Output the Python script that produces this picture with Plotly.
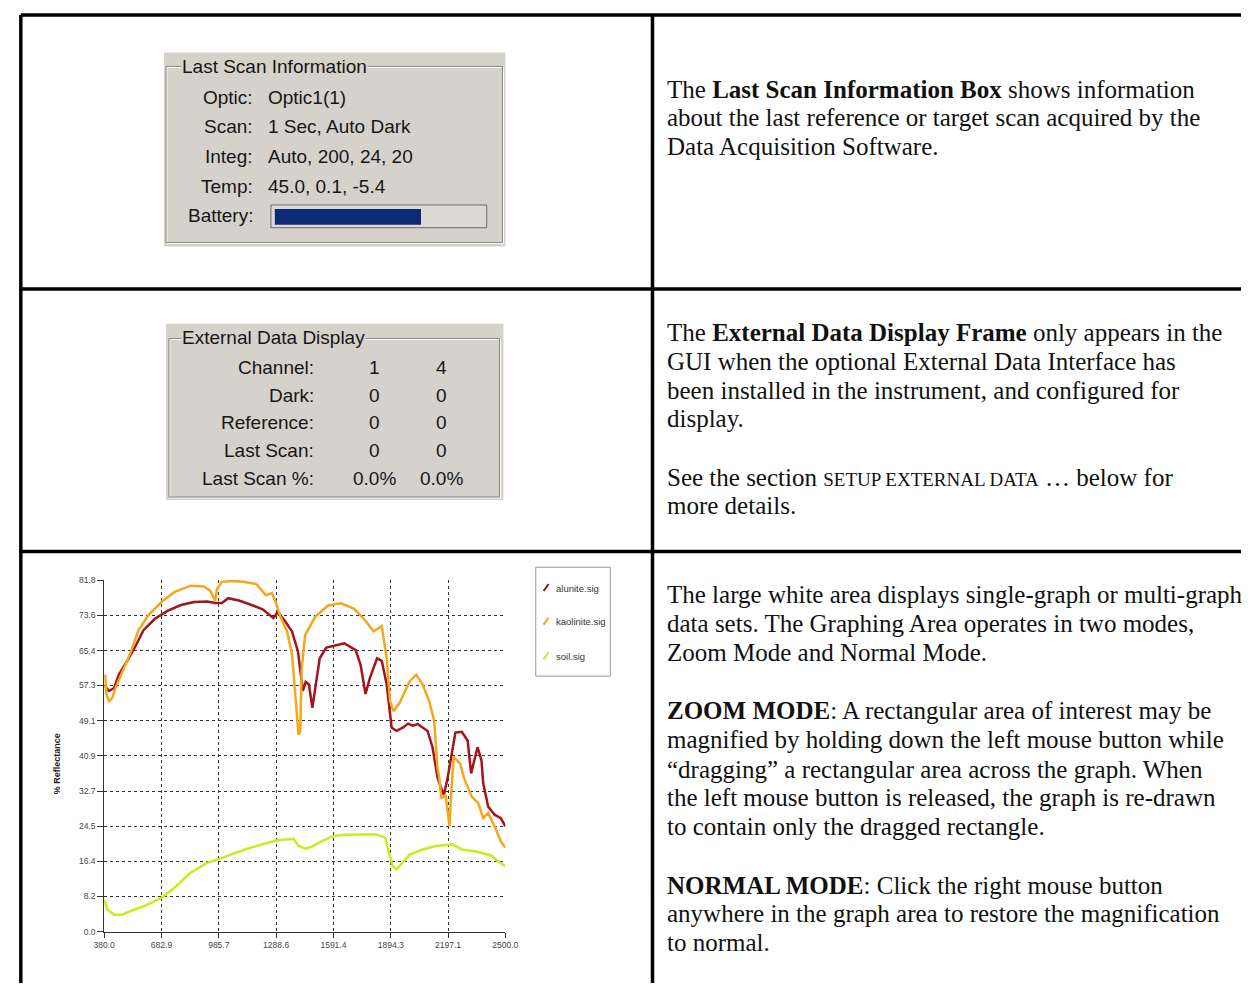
import plotly.graph_objects as go

W, H = 1254, 988

# ---------------- chart data ----------------
series_names = ["alunite.sig", "kaolinite.sig", "soil.sig"]
series_colors = ["#a3141c", "#f4a61c", "#c6ee1e"]

alunite_wl = [385, 406, 432, 458, 509, 544, 587, 648, 717, 786, 855, 924, 967, 1002, 1036, 1096,
              1166, 1217, 1274, 1298, 1338, 1373, 1404, 1421, 1430, 1445, 1462, 1480, 1494, 1519,
              1554, 1614, 1649, 1709, 1735, 1761, 1784, 1822, 1847, 1873, 1899, 1925, 1960, 1986,
              2011, 2037, 2089, 2115, 2141, 2158, 2175, 2193, 2215, 2236, 2270, 2301, 2319, 2331,
              2353, 2374, 2383, 2409, 2443, 2476, 2500]
alunite_val = [57.1, 56.0, 56.7, 59.8, 63.6, 66.3, 70.1, 72.8, 74.7, 76.0, 76.7, 76.8, 76.5, 76.5,
               77.6, 77.0, 75.9, 75.0, 73.0, 74.4, 72.1, 69.8, 65.2, 59.4, 56.0, 58.1, 57.5, 52.1,
               56.0, 63.6, 66.1, 66.8, 67.1, 65.5, 62.1, 55.3, 59.0, 63.6, 63.0, 57.5, 47.5, 46.7,
               47.5, 48.4, 47.9, 48.3, 46.7, 42.9, 36.0, 33.7, 31.8, 35.3, 40.7, 46.3, 46.5, 44.4,
               36.8, 39.1, 42.9, 39.8, 34.5, 29.1, 27.2, 26.4, 24.5]

kaolinite_wl = [385, 392, 406, 423, 440, 475, 518, 561, 613, 682, 751, 837, 907, 941, 967, 976,
                1002, 1062, 1114, 1183, 1235, 1266, 1286, 1312, 1347, 1373, 1390, 1407, 1416, 1424,
                1442, 1494, 1563, 1632, 1701, 1752, 1804, 1847, 1873, 1891, 1908, 1942, 1994, 2029,
                2063, 2098, 2124, 2141, 2150, 2162, 2184, 2205, 2215, 2227, 2236, 2262, 2279, 2322,
                2357, 2383, 2409, 2443, 2476, 2500]
kaolinite_val = [59.8, 55.2, 53.6, 54.4, 56.7, 60.5, 64.8, 70.1, 73.6, 76.7, 79.0, 80.5, 80.3, 79.3,
                 77.0, 79.7, 81.4, 81.6, 81.4, 80.9, 78.3, 78.8, 76.7, 73.2, 69.8, 64.4, 55.2, 45.8,
                 46.6, 61.3, 69.0, 73.2, 75.9, 76.4, 75.1, 72.8, 69.9, 71.1, 63.6, 53.6, 51.3, 53.3,
                 58.2, 59.8, 57.5, 53.6, 49.0, 38.3, 36.0, 31.0, 31.8, 24.5, 33.0, 40.7, 40.2, 39.1,
                 36.0, 31.4, 29.9, 26.4, 27.6, 24.5, 21.0, 19.5]

soil_wl = [380, 397, 432, 475, 527, 596, 684, 751, 837, 924, 988, 1062, 1131, 1217, 1290, 1338,
           1381, 1407, 1442, 1476, 1528, 1590, 1649, 1735, 1822, 1865, 1891, 1904, 1925, 1960,
           1994, 2063, 2132, 2219, 2270, 2339, 2426, 2460, 2500]
soil_val = [7.5, 5.1, 3.9, 3.9, 4.9, 6.0, 7.9, 10.2, 13.7, 16.0, 16.9, 18.1, 19.2, 20.3, 21.2, 21.4,
            21.6, 19.9, 19.3, 19.7, 21.0, 22.2, 22.5, 22.6, 22.6, 21.8, 17.6, 15.2, 14.5, 16.2,
            17.9, 19.1, 19.9, 20.3, 19.1, 18.7, 17.7, 16.4, 15.2]

x_ticks = [380.0, 682.9, 985.7, 1288.6, 1591.4, 1894.3, 2197.1, 2500.0]
x_tick_labels = ["380.0", "682.9", "985.7", "1288.6", "1591.4", "1894.3", "2197.1", "2500.0"]
y_ticks = [0.0, 8.2, 16.4, 24.5, 32.7, 40.9, 49.1, 57.3, 65.4, 73.6, 81.8]
y_tick_labels = ["0.0", "8.2", "16.4", "24.5", "32.7", "40.9", "49.1", "57.3", "65.4", "73.6", "81.8"]
y_title = "% Reflectance"

# ---------------- GUI panel texts ----------------
scan_title = "Last Scan Information"
scan_labels = ["Optic:", "Scan:", "Integ:", "Temp:", "Battery:"]
scan_values = ["Optic1(1)", "1 Sec, Auto Dark", "Auto, 200, 24, 20", "45.0, 0.1, -5.4", ""]

ext_title = "External Data Display"
ext_labels = ["Channel:", "Dark:", "Reference:", "Last Scan:", "Last Scan %:"]
ext_col1 = ["1", "0", "0", "0", "0.0%"]
ext_col2 = ["4", "0", "0", "0", "0.0%"]

# ---------------- right-hand description text ----------------
desc_lines = [
    (85, "The <b>Last Scan Information Box</b> shows information"),
    (114, "about the last reference or target scan acquired by the"),
    (143, "Data Acquisition Software."),
    (331, "The <b>External Data Display Frame</b> only appears in the"),
    (360, "GUI when the optional External Data Interface has"),
    (389, "been installed in the instrument, and configured for"),
    (418, "display."),
    (477, "See the section <span style='font-size:19px'>SETUP EXTERNAL DATA</span> … below for"),
    (506, "more details."),
    (596, "The large white area displays single-graph or multi-graph"),
    (625, "data sets. The Graphing Area operates in two modes,"),
    (654, "Zoom Mode and Normal Mode."),
    (713, "<b>ZOOM MODE</b>: A rectangular area of interest may be"),
    (742, "magnified by holding down the left mouse button while"),
    (772, "“dragging” a rectangular area across the graph. When"),
    (801, "the left mouse button is released, the graph is re-drawn"),
    (830, "to contain only the dragged rectangle."),
    (889, "<b>NORMAL MODE</b>: Click the right mouse button"),
    (918, "anywhere in the graph area to restore the magnification"),
    (947, "to normal."),
]


def X(p):
    return p / W


def Y(p):
    return 1 - p / H


fig = go.Figure()
for name, wl, val, col in zip(series_names,
                              [alunite_wl, kaolinite_wl, soil_wl],
                              [alunite_val, kaolinite_val, soil_val],
                              series_colors):
    fig.add_trace(go.Scatter(x=wl, y=val, mode="lines", name=name,
                             line=dict(color=col, width=2.5),
                             showlegend=False, hoverinfo="skip"))

shapes = []
annotations = []

# table borders
BK = dict(color="black", width=3.5)
for (x0, y0, x1, y1) in [(10, 10, 1254, 10), (10, 10, 10, 988), (654, 10, 654, 988),
                         (10, 287, 1254, 287), (10, 552, 1254, 552)]:
    shapes.append(dict(type="line", xref="paper", yref="paper",
                       x0=X(x0), y0=Y(y0), x1=X(x1), y1=Y(y1), line=BK))

GREY = "#d5d2cc"


def rect(x0, y0, x1, y1, fill=None, line=None):
    d = dict(type="rect", xref="paper", yref="paper",
             x0=X(x0), y0=Y(y0), x1=X(x1), y1=Y(y1), layer="below")
    d["fillcolor"] = fill if fill else "rgba(0,0,0,0)"
    d["line"] = line if line else dict(width=0)
    return d


def gui_box(gx0, gy0, gx1, gy1, fx0, fy0, fx1, fy1):
    shapes.append(rect(gx0, gy0, gx1, gy1, fill=GREY))
    shapes.append(rect(fx0 + 1, fy0 + 1, fx1 + 1, fy1 + 1, line=dict(color="#ffffff", width=1)))
    shapes.append(rect(fx0, fy0, fx1, fy1, line=dict(color="#8a8884", width=1)))


GUI_FONT = dict(family="Liberation Sans", size=19, color="#161616")

# Box 1 : Last Scan Information
gui_box(156, 48, 504, 244, 158, 62, 501, 240)
annotations.append(dict(text=scan_title, x=X(173), y=Y(62), xanchor="left", yanchor="middle",
                        bgcolor=GREY, font=GUI_FONT, borderpad=0))
scan_rows = [93, 123, 153, 183, 213]
for lab, val, yy in zip(scan_labels, scan_values, scan_rows):
    annotations.append(dict(text=lab, x=X(249), y=Y(yy), xanchor="right", yanchor="middle",
                            font=GUI_FONT))
    if val:
        annotations.append(dict(text=val, x=X(260), y=Y(yy), xanchor="left", yanchor="middle",
                                font=GUI_FONT))
# battery bar
shapes.append(rect(265, 202, 485, 225, fill="#dcd9d4", line=dict(color="#6c6a66", width=1)))
shapes.append(rect(269, 206, 418, 222, fill="#0b2a78"))

# Box 2 : External Data Display
gui_box(158, 322, 502, 500, 161, 337, 498, 497)
annotations.append(dict(text=ext_title, x=X(173), y=Y(336), xanchor="left", yanchor="middle",
                        bgcolor=GREY, font=GUI_FONT, borderpad=0))
ext_rows = [366, 394, 422, 450, 478]
for lab, c1, c2, yy in zip(ext_labels, ext_col1, ext_col2, ext_rows):
    annotations.append(dict(text=lab, x=X(311), y=Y(yy), xanchor="right", yanchor="middle",
                            font=GUI_FONT))
    annotations.append(dict(text=c1, x=X(371), y=Y(yy), xanchor="center", yanchor="middle",
                            font=GUI_FONT))
    annotations.append(dict(text=c2, x=X(439), y=Y(yy), xanchor="center", yanchor="middle",
                            font=GUI_FONT))

# description text
SERIF = dict(family="Liberation Serif", size=25, color="#111111")
for yy, txt in desc_lines:
    annotations.append(dict(text=txt, x=X(667), y=Y(yy), xanchor="left", yanchor="middle",
                            font=SERIF))

# chart legend
shapes.append(rect(535, 568, 611, 678, fill="#ffffff", line=dict(color="#9a9a9a", width=1)))
legend_rows = [589, 623, 658]
for name, col, yy in zip(series_names, series_colors, legend_rows):
    shapes.append(dict(type="line", xref="paper", yref="paper", x0=X(543), y0=Y(yy + 3),
                       x1=X(548), y1=Y(yy - 4), line=dict(color=col, width=2)))
    annotations.append(dict(text=name, x=X(554), y=Y(yy), xanchor="left", yanchor="middle",
                            font=dict(family="Liberation Sans", size=9.5, color="#333333")))

# y axis title
annotations.append(dict(text="<b>" + y_title + "</b>", x=X(47), y=Y(767), textangle=-90,
                        xanchor="center", yanchor="middle",
                        font=dict(family="Liberation Sans", size=9, color="#222222")))

for a in annotations:
    a.setdefault("xref", "paper")
    a.setdefault("yref", "paper")
    a.setdefault("showarrow", False)

TICKF = dict(family="Liberation Sans", size=8.5, color="#444444")
fig.update_layout(
    width=W, height=H, margin=dict(l=0, r=0, t=0, b=0),
    paper_bgcolor="white", plot_bgcolor="white",
    shapes=shapes, annotations=annotations,
    xaxis=dict(domain=[X(95), X(504)], range=[380, 2500], tickmode="array",
               tickvals=x_ticks, ticktext=x_tick_labels, ticks="outside", ticklen=5,
               tickcolor="#333", showline=True, linecolor="#333", linewidth=1,
               showgrid=True, gridcolor="#333", griddash="dot", gridwidth=1,
               zeroline=False, tickfont=TICKF, fixedrange=True),
    yaxis=dict(domain=[Y(936), Y(581)], range=[0, 81.8], tickmode="array",
               tickvals=y_ticks, ticktext=y_tick_labels, ticks="outside", ticklen=6,
               tickcolor="#333", showline=True, linecolor="#333", linewidth=1,
               showgrid=True, gridcolor="#333", griddash="dot", gridwidth=1,
               zeroline=False, tickfont=TICKF, fixedrange=True),
)

fig.write_html("out.html", config={"displayModeBar": False},
               post_script="document.body.style.margin='0';document.body.style.overflow='hidden';")
